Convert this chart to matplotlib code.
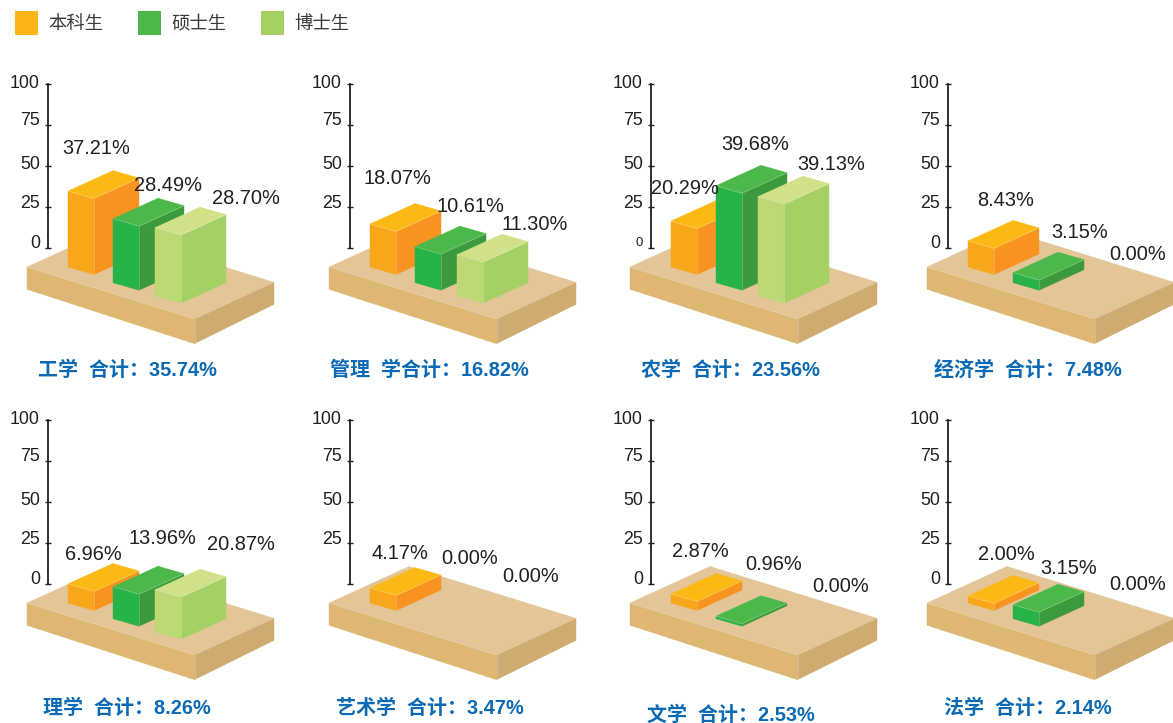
import matplotlib
matplotlib.use("Agg")
import matplotlib.pyplot as plt
from matplotlib.patches import Patch, Polygon
from matplotlib.transforms import ScaledTranslation

# ---------- data ----------
fields = ["工学", "管理", "农学", "经济学", "理学", "艺术学", "文学", "法学"]
title_heads = ["工学  合计", "管理  学合计", "农学  合计", "经济学  合计",
               "理学  合计", "艺术学  合计", "文学  合计", "法学  合计"]
totals = [35.74, 16.82, 23.56, 7.48, 8.26, 3.47, 2.53, 2.14]
degrees = ["本科生", "硕士生", "博士生"]

undergrad_labels = [37.21, 18.07, 20.29, 8.43, 6.96, 4.17, 2.87, 2.00]
master_labels = [28.49, 10.61, 39.68, 3.15, 13.96, 0.00, 0.96, 3.15]
doctor_labels = [28.70, 11.30, 39.13, 0.00, 20.87, 0.00, 0.00, 0.00]

# drawn bar heights as read against each panel's own 0-100 axis
undergrad_heights = [46.3, 26.2, 28.0, 15.9, 11.6, 9.1, 5.5, 4.3]
master_heights = [39.0, 22.0, 59.1, 6.1, 19.5, 0.0, 1.5, 8.5]
doctor_heights = [41.5, 25.0, 60.4, 0.0, 25.6, 0.0, 0.0, 0.0]

y_ticks = [0, 25, 50, 75, 100]

# ---------- layout ----------
W, H = 1173, 723
PX = 0.72  # points per pixel at dpi 100
TEXT = "#231f20"
BLUE = "#0b6ab3"
plate_left = [27, 329, 630, 927] * 2
row_top = [267] * 4 + [603] * 4
axis_offset = 21
axis_span = 164
unit = axis_span / 100
zero_rise = 19          # axis zero sits this far above the plate's left corner
bar_base = [(41, 0), (86, 15.7), (128, 28.7)]
bar_w = (26, 7.5)
bar_d = (45, -20.5)
faces = [("#faa61a", "#f8931f", "#fdb913"),
         ("#27b24a", "#3b9a3d", "#4cb849"),
         ("#bdd975", "#a6d066", "#d1e188")]
legend_cols = ["#fdb515", "#4cb848", "#a4d162"]
tick_lift = {0: 6, 25: 5, 50: 3.5, 75: 6.5, 100: 3}

label_xy = [
    [(96.7, 148), (168, 185.7), (246, 199)],
    [(397, 179), (470.7, 206), (535, 224)],
    [(684.5, 189), (755.5, 144), (831, 164)],
    [(1006, 200), (1080, 232.7), (1138, 254)],
    [(93, 554), (162.7, 538), (241, 544.7)],
    [(400, 553.7), (470, 558.7), (530.7, 576)],
    [(700, 551.7), (774, 564), (840.7, 587)],
    [(1006, 554.7), (1068.7, 568), (1137.5, 585)],
]
title_xy = [(38, 370), (330, 370), (641, 370), (934, 370),
            (43, 708), (336, 708), (647, 715), (944, 708)]

plt.rcParams["font.family"] = ["Liberation Sans", "Noto Sans CJK SC", "DejaVu Sans"]
fig = plt.figure(figsize=(W / 100, H / 100), dpi=100)
fig.patch.set_facecolor("white")


def poly(ax, pts, color, z):
    ax.add_patch(Polygon(pts, closed=True, facecolor=color, edgecolor=color,
                         linewidth=0.3, clip_on=False, zorder=z))


def seam(ax, a, b, z):
    ax.plot([a[0], b[0]], [a[1], b[1]], color="white", alpha=0.25, lw=0.6,
            clip_on=False, zorder=z, solid_capstyle="butt")


series_h = [undergrad_heights, master_heights, doctor_heights]
series_l = [undergrad_labels, master_labels, doctor_labels]

for i, field in enumerate(fields):
    ax_x = plate_left[i] + axis_offset
    ax_zero = row_top[i] - zero_rise
    ax = fig.add_axes([ax_x / W, 1 - ax_zero / H, 240 / W, axis_span / H])
    ax.set_xlim(0, 240)
    ax.set_ylim(0, 100)
    ax.patch.set_visible(False)
    for s in ("top", "right", "bottom"):
        ax.spines[s].set_visible(False)
    ax.spines["left"].set_bounds(0, 100)
    ax.spines["left"].set_linewidth(1.3)
    ax.spines["left"].set_color(TEXT)
    ax.set_xticks([])
    ax.set_yticks(y_ticks)
    ax.tick_params(axis="y", direction="inout", length=6 * PX, width=1,
                   color=TEXT, pad=5.2 * PX, labelsize=12.8, labelcolor=TEXT)
    for tick_val, lab in zip(y_ticks, ax.get_yticklabels()):
        lab.set_transform(lab.get_transform() + ScaledTranslation(
            0, tick_lift[tick_val] / 100, fig.dpi_scale_trans))
        if tick_val == 0:
            if field in ("管理", "艺术学"):
                lab.set_visible(False)
            elif field == "农学":
                lab.set_fontsize(9.5)

    # helper: page pixels relative to the plate corner -> this axes' data
    def pt(x, y, up=0.0):
        return (x - axis_offset, -zero_rise / unit - y / unit + up)

    # plate
    L, F, R, B = (0, 0), (167.5, 52), (247, 15.3), (80, -36.5)
    poly(ax, [pt(*L), pt(*F), pt(*R), pt(*B)], "#e3c598", 1)
    poly(ax, [pt(*L), pt(*F), pt(F[0], F[1] + 24.7), pt(L[0], L[1] + 22.3)], "#deb872", 1)
    poly(ax, [pt(*F), pt(*R), pt(R[0], R[1] + 22), pt(F[0], F[1] + 24.7)], "#cfab6f", 1)
    seam(ax, pt(*L), pt(*F), 1.1)
    seam(ax, pt(*F), pt(*R), 1.1)
    seam(ax, pt(*F), pt(F[0], F[1] + 24.7), 1.1)

    # bars
    for j in range(3):
        h = series_h[j][i]
        if h <= 0:
            continue
        x0, y0 = bar_base[j]
        z = 2 + j
        a = (x0, y0)
        b = (x0 + bar_w[0], y0 + bar_w[1])
        c = (b[0] + bar_d[0], b[1] + bar_d[1])
        d = (x0 + bar_d[0], y0 + bar_d[1])
        left_c, right_c, top_c = faces[j]
        poly(ax, [pt(*a), pt(*b), pt(*b, h), pt(*a, h)], left_c, z)
        poly(ax, [pt(*b), pt(*c), pt(*c, h), pt(*b, h)], right_c, z)
        poly(ax, [pt(*a, h), pt(*b, h), pt(*c, h), pt(*d, h)], top_c, z)
        seam(ax, pt(*a, h), pt(*b, h), z + 0.1)
        seam(ax, pt(*b, h), pt(*c, h), z + 0.1)
        seam(ax, pt(*b), pt(*b, h), z + 0.1)

    # value labels
    for j in range(3):
        lx, ly = label_xy[i][j]
        fig.text(lx / W, 1 - ly / H, f"{series_l[j][i]:.2f}%", fontsize=14.4,
                 color=TEXT, ha="center", va="center")

    # panel title
    tx, ty = title_xy[i]
    fig.text(tx / W, 1 - ty / H, f"{title_heads[i]}：{totals[i]:.2f}%", fontsize=14.4,
             fontweight="bold", color=BLUE, ha="left", va="center")

handles = [Patch(facecolor=c, edgecolor="none") for c in legend_cols]
fig.legend(handles, degrees, loc="upper left", bbox_to_anchor=(15 / W, 1 - 11 / H),
           ncol=3, frameon=False, fontsize=13.2, labelcolor="#3a3a3a",
           handlelength=1.26, handleheight=1.61, handletextpad=0.58,
           columnspacing=1.86, borderaxespad=0, borderpad=0)

fig.savefig("out.png", dpi=100)
